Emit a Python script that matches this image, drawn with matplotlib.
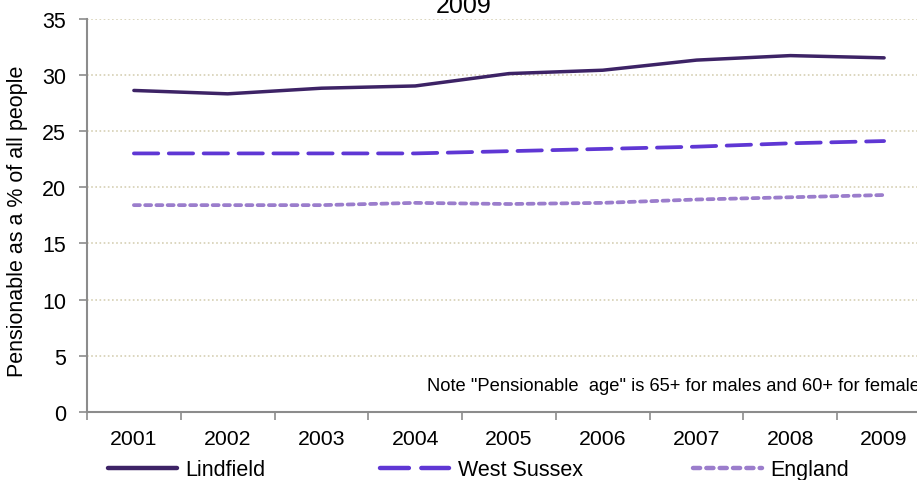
import matplotlib
matplotlib.use("Agg")
import matplotlib.pyplot as plt
import numpy as np

plt.rcParams['font.family'] = ['Liberation Sans', 'DejaVu Sans']

years = ["2001", "2002", "2003", "2004", "2005", "2006", "2007", "2008", "2009"]
lindfield = [28.6, 28.3, 28.8, 29.0, 30.1, 30.4, 31.3, 31.7, 31.5]
west_sussex = [23.0, 23.0, 23.0, 23.0, 23.2, 23.4, 23.6, 23.9, 24.1]
england = [18.4, 18.4, 18.4, 18.6, 18.5, 18.6, 18.9, 19.1, 19.3]
series_names = ["Lindfield", "West Sussex", "England"]
colors = ["#3D2366", "#5F37D4", "#9B7DCC"]
yticks = [0, 5, 10, 15, 20, 25, 30, 35]

fig = plt.figure(figsize=(9.17, 4.81), dpi=100)
ax = fig.add_axes([87/917, 68/481, 844/917, 393.5/481])

x = np.arange(len(years))
l1, = ax.plot(x, lindfield, color=colors[0], lw=2.5, solid_capstyle='round', solid_joinstyle='round')
l2, = ax.plot(x, west_sussex, color=colors[1], lw=2.7, dashes=(6.5, 2.8), dash_capstyle='round')
l3, = ax.plot(x, england, color=colors[2], lw=2.7, dashes=(1.6, 1.4), dash_capstyle='round')

ax.set_xlim(-0.5, len(years) - 0.5)
ax.set_ylim(0, 35)
ax.set_yticks(yticks)
ax.set_yticklabels([str(v) for v in yticks], fontsize=15.5)
ax.set_xticks(x)
ax.set_xticklabels(years, fontsize=15.3)
ax.set_xticks(np.arange(len(years) + 1) - 0.5, minor=True)
ax.tick_params(axis='x', which='major', length=0, pad=12)
ax.tick_params(axis='x', which='minor', length=6, width=1.2, color='#8C8C8C', direction='out')
ax.tick_params(axis='y', which='major', length=6, width=1.2, color='#8C8C8C', direction='out', pad=9)

for v in yticks[1:]:
    ax.axhline(v, color='#D6D0B4', lw=1.2, ls=(0, (1, 1.5)), zorder=0)

for s in ['top', 'right']:
    ax.spines[s].set_visible(False)
for s in ['left', 'bottom']:
    ax.spines[s].set_color('#8C8C8C')
    ax.spines[s].set_linewidth(1.5)

ax.set_ylabel("Pensionable as a % of all people", fontsize=15.5,
              family=['Liberation Sans Narrow', 'Liberation Sans', 'DejaVu Sans'])
ax.yaxis.set_label_coords(-(87 - 28) / 844, 0.488)

fig.text(464/917, 1 - 13/481, "2009", ha='center', va='baseline', fontsize=18)
fig.text(427/917, 1 - 387/481, 'Note "Pensionable  age" is 65+ for males and 60+ for females',
         fontsize=13.2, va='center', ha='left')

handles = [l1, l2, l3]
starts = [108, 380, 693]
for h, name, xs in zip(handles, series_names, starts):
    leg = fig.legend([h], [name], loc='center left', bbox_to_anchor=(xs/917, 1 - 471/481),
                     frameon=False, fontsize=15.5, handlelength=3.2, handletextpad=0.4,
                     borderaxespad=0, borderpad=0)
    for lh in leg.get_lines():
        lh.set_linewidth(3.2)

fig.savefig("out.png", dpi=100)
